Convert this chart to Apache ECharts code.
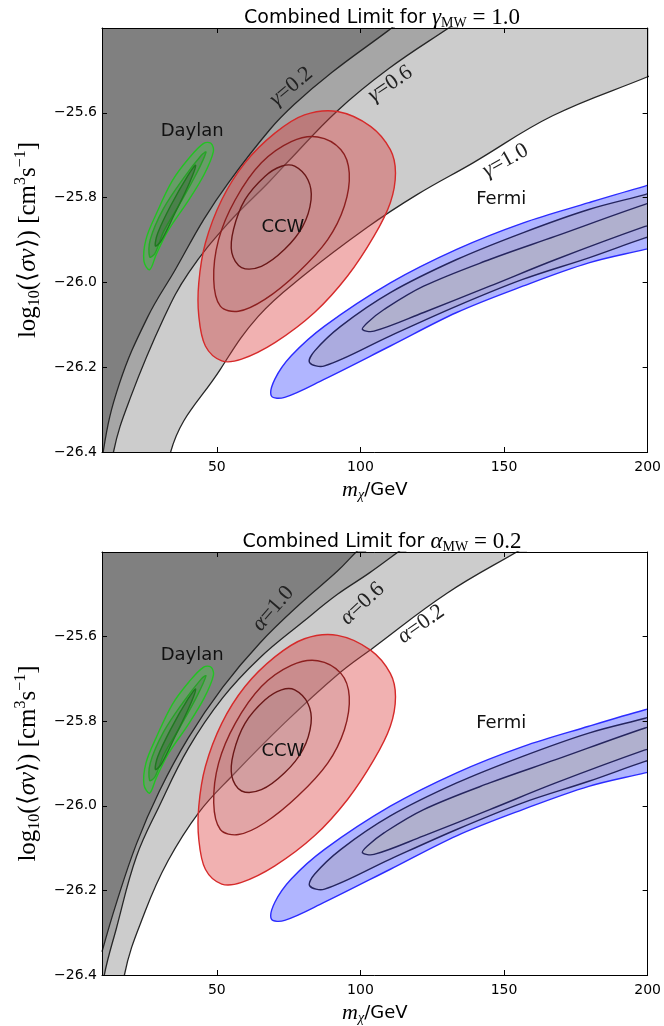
<!DOCTYPE html>
<html>
<head>
<meta charset="utf-8">
<script src="https://cdn.jsdelivr.net/npm/echarts@6/dist/echarts.min.js"></script>
<style>
  html, body { margin: 0; padding: 0; background: #fff; }
  #chart { width: 664px; height: 1026px; }
</style>
</head>
<body>
<div id="chart"></div>
<script>
// axis ticks
var massTicks = [50, 100, 150, 200]
var logTicks = [-26.4, -26.2, -26.0, -25.8, -25.6]

// limit curves, [m_chi, log10 <sigma v>] -- top panel (gamma_MW = 1.0)
var gamma02 = [[10, -26.45], [10.5, -26.396], [16, -26.24], [25.8, -26.083], [35.6, -25.969], [45.4, -25.852], [54, -25.765], [68.4, -25.64], [77, -25.58], [90, -25.505], [109.9, -25.405], [112, -25.393]]
var gamma06 = [[10, -26.6], [14, -26.4], [20, -26.27], [31.6, -26.083], [40.2, -25.977], [54, -25.86], [67.9, -25.765], [74.8, -25.715], [92, -25.595], [110, -25.495], [131.8, -25.395], [134, -25.385]]
var gamma10 = [[10, -27.2], [33.9, -26.4], [51.2, -26.205], [64.4, -26.08], [80, -25.985], [102.4, -25.87], [119.7, -25.793], [139.2, -25.718], [166.9, -25.607], [200, -25.515], [205, -25.5]]

// bottom panel (alpha_MW = 0.2)
var alpha10 = [[10, -26.345], [15, -26.23], [22, -26.09], [30, -25.965], [40, -25.84], [52, -25.72], [65, -25.615], [79.4, -25.52], [92, -25.445], [99.1, -25.396], [102, -25.38]]
var alpha06 = [[10, -26.46], [10.8, -26.4], [15, -26.29], [22, -26.12], [30, -26.0], [40, -25.865], [52, -25.745], [65, -25.65], [80, -25.565], [92, -25.50], [103, -25.45], [113.9, -25.396], [116, -25.386]]
var alpha02 = [[10, -26.75], [17.8, -26.4], [25, -26.25], [33, -26.13], [43.7, -26.016], [55.2, -25.93], [73.6, -25.804], [92, -25.69], [104.7, -25.625], [130, -25.498], [155.4, -25.396], [158, -25.386]]

// signal regions (same in both panels)
var daylanOuter = [[47.9, -25.672], [48.8, -25.691], [45.6, -25.745], [40.0, -25.808], [33.0, -25.878], [28.9, -25.934], [26.6, -25.97], [24.6, -25.95], [25.3, -25.899], [28.8, -25.84], [34.5, -25.76], [40.4, -25.706], [45.4, -25.672]]
var daylanMid = [[46.2, -25.693], [43.0, -25.742], [37.4, -25.811], [31.6, -25.878], [28.4, -25.932], [26.6, -25.94], [26.8, -25.899], [31.4, -25.826], [38.4, -25.754], [44.6, -25.7]]
var daylanCore = [[42.6, -25.724], [40.4, -25.766], [35.3, -25.838], [30.6, -25.902], [28.6, -25.914], [29.4, -25.884], [34.0, -25.818], [39.9, -25.748]]

var ccwOuter = [[92.0, -25.597], [103.5, -25.632], [110.4, -25.687], [112.2, -25.742], [110.4, -25.812], [104.7, -25.891], [95.5, -25.985], [84.0, -26.071], [70.2, -26.142], [58.6, -26.181], [51.7, -26.185], [46.0, -26.15], [43.7, -26.079], [43.7, -26.001], [46.0, -25.907], [51.7, -25.805], [59.8, -25.718], [70.2, -25.648], [80.5, -25.605]]
var ccwMid = [[85.1, -25.657], [93.2, -25.687], [96.1, -25.742], [94.4, -25.820], [88.6, -25.899], [78.2, -25.977], [66.7, -26.04], [57.5, -26.068], [51.2, -26.056], [48.9, -25.993], [50.6, -25.899], [56.4, -25.805], [65.5, -25.718], [75.9, -25.668]]
var ccwCore = [[77.1, -25.726], [81.7, -25.758], [82.8, -25.805], [79.9, -25.868], [73.6, -25.922], [65.5, -25.962], [58.6, -25.965], [55.2, -25.930], [55.8, -25.875], [59.8, -25.805], [66.7, -25.75], [72.5, -25.726]]

var fermiOuter = [[69.0, -26.268], [73.6, -26.271], [87.5, -26.228], [110.4, -26.15], [133.5, -26.071], [156.5, -26.009], [179.5, -25.954], [199.1, -25.922], [206, -25.91], [206, -25.762], [199.1, -25.773], [179.5, -25.812], [156.5, -25.86], [133.5, -25.922], [110.4, -26.001], [87.5, -26.103], [75.9, -26.173], [70.2, -26.228]]
var fermiMid = [[82.3, -26.189], [87.5, -26.197], [110.4, -26.126], [133.5, -26.056], [156.5, -25.993], [179.5, -25.942], [199.1, -25.895], [206, -25.882], [206, -25.78], [199.1, -25.793], [179.5, -25.828], [156.5, -25.883], [133.5, -25.946], [110.4, -26.024], [93.2, -26.103], [84.0, -26.162]]
var fermiCore = [[100.7, -26.111], [104.7, -26.115], [122.0, -26.071], [145.0, -26.009], [168.0, -25.946], [199.1, -25.868], [206, -25.855], [206, -25.805], [199.1, -25.816], [168.0, -25.891], [145.0, -25.946], [122.0, -26.009], [108.2, -26.064], [102.4, -26.095]]

// text annotations
var regionNames = ['Daylan', 'CCW', 'Fermi']
var regionLabelAt = [[41.4, -25.644], [73.0, -25.871], [149.0, -25.805]]
var gammaNames = ['0.2', '0.6', '1.0']
var gammaLabelAt = [[75.9, -25.538], [110.4, -25.532], [150.5, -25.713]]
var alphaNames = ['1.0', '0.6', '0.2']
var alphaLabelAt = [[69.6, -25.534], [100.7, -25.522], [121.1, -25.571]]

var SANS = 'DejaVu Sans'
var SERIF = 'Liberation Serif'
var gammaAngles = [40, 34, 29]
var alphaAngles = [49, 43, 35]

var chart = echarts.init(document.getElementById('chart'))

function fmtLog(v) {
  return (v < 0 ? '\u2212' : '') + Math.abs(v).toFixed(1)
}

var mathRich = {
  a: { fontFamily: SANS, fontWeight: 'normal', fontSize: 19, color: '#000' },
  m: { fontFamily: SERIF, fontWeight: 'normal', fontStyle: 'italic', fontSize: 23, color: '#000' },
  s: { fontFamily: SERIF, fontWeight: 'normal', fontSize: 14, color: '#000', verticalAlign: 'bottom', padding: [10, 0, 0, 0] },
  e: { fontFamily: SERIF, fontWeight: 'normal', fontSize: 23, color: '#000' }
}

function axesFor(gi) {
  var xs = [{
    gridIndex: gi, type: 'value', min: 10, max: 200, position: 'bottom', z: 10,
    axisLine: { show: true, onZero: false, lineStyle: { color: '#000', width: 1 } },
    axisTick: { show: true, inside: true, length: 5, customValues: massTicks, lineStyle: { color: '#000' } },
    axisLabel: { show: true, customValues: massTicks, fontFamily: SANS, fontSize: 14, color: '#000', margin: 8 },
    splitLine: { show: false },
    name: '{i|m}{s|\u03c7}{n|/GeV}', nameLocation: 'middle', nameGap: 27,
    nameTextStyle: { rich: {
      i: { fontFamily: SERIF, fontStyle: 'italic', fontSize: 22, color: '#000' },
      s: { fontFamily: SERIF, fontStyle: 'italic', fontSize: 14, color: '#000', verticalAlign: 'bottom', padding: [9, 0, 0, 0] },
      n: { fontFamily: SANS, fontSize: 18, color: '#000' }
    } }
  }, {
    gridIndex: gi, type: 'value', min: 10, max: 200, position: 'top', z: 10,
    axisLine: { show: true, onZero: false, lineStyle: { color: '#000', width: 1 } },
    axisTick: { show: true, inside: true, length: 5, customValues: massTicks, lineStyle: { color: '#000' } },
    axisLabel: { show: false },
    splitLine: { show: false }
  }]
  var ys = [{
    gridIndex: gi, type: 'value', min: -26.4, max: -25.4, position: 'left', z: 10,
    axisLine: { show: true, onZero: false, lineStyle: { color: '#000', width: 1 } },
    axisTick: { show: true, inside: true, length: 5, customValues: logTicks, lineStyle: { color: '#000' } },
    axisLabel: { show: true, customValues: logTicks, formatter: fmtLog, fontFamily: SANS, fontSize: 14, color: '#000', margin: 5 },
    splitLine: { show: false },
    name: '{n|log}{s|10}{n|(\u27e8}{i|\u03c3v}{n|\u27e9) [cm}{p|3}{n|s}{p|\u22121}{n|]}',
    nameLocation: 'middle', nameGap: 46, nameRotate: 90,
    nameTextStyle: { rich: {
      n: { fontFamily: SERIF, fontSize: 25, color: '#000', lineHeight: 30 },
      i: { fontFamily: SERIF, fontStyle: 'italic', fontSize: 25, color: '#000', lineHeight: 30 },
      s: { fontFamily: SERIF, fontSize: 16, color: '#000', verticalAlign: 'bottom', lineHeight: 16 },
      p: { fontFamily: SERIF, fontSize: 16, color: '#000', verticalAlign: 'top', lineHeight: 16 }
    } }
  }, {
    gridIndex: gi, type: 'value', min: -26.4, max: -25.4, position: 'right', z: 10,
    axisLine: { show: true, onZero: false, lineStyle: { color: '#000', width: 1 } },
    axisTick: { show: true, inside: true, length: 5, customValues: logTicks, lineStyle: { color: '#000' } },
    axisLabel: { show: false },
    splitLine: { show: false }
  }]
  return { xs: xs, ys: ys }
}

function band(curve, color, gi) {
  return {
    type: 'line', xAxisIndex: gi * 2, yAxisIndex: gi * 2,
    data: curve, smooth: 0.4, symbol: 'none', clip: true, silent: true,
    lineStyle: { color: '#262626', width: 1.3 },
    areaStyle: { color: color, opacity: 1, origin: 'end' },
    z: 1
  }
}

function region(pts, fill, stroke, gi) {
  return {
    type: 'custom', coordinateSystem: 'cartesian2d', xAxisIndex: gi * 2, yAxisIndex: gi * 2,
    clip: true, silent: true, z: 3,
    data: [pts[0]],
    renderItem: function (params, api) {
      return {
        type: 'polygon',
        shape: { points: pts.map(function (p) { return api.coord(p) }), smooth: 0.35 },
        style: { fill: fill, stroke: stroke, lineWidth: 1.4 }
      }
    }
  }
}

function notes(names, at, angles, greek, gi) {
  return {
    type: 'custom', coordinateSystem: 'cartesian2d', xAxisIndex: gi * 2, yAxisIndex: gi * 2,
    silent: true, z: 5, data: at,
    renderItem: function (params, api) {
      var p = api.coord([api.value(0), api.value(1)])
      var i = params.dataIndex
      var txt = greek ? '{g|' + greek + '}{n|=' + names[i] + '}' : names[i]
      return {
        type: 'text', x: p[0], y: p[1], rotation: (angles ? angles[i] : 0) * Math.PI / 180,
        style: {
          text: txt, align: 'center', verticalAlign: 'middle',
          font: '18px "' + SANS + '"', fill: '#111',
          rich: {
            g: { fontFamily: SERIF, fontStyle: 'italic', fontSize: 22, fill: '#222' },
            n: { fontFamily: SERIF, fontSize: 22, fill: '#222' }
          }
        }
      }
    }
  }
}

function panel(curves, colors, gi, labNames, labAt, labAngles, greek) {
  var s = []
  for (var k = 0; k < curves.length; k++) s.push(band(curves[k], colors[k], gi))
  s.push(region(daylanOuter, 'rgba(60,210,60,0.35)', '#22c322', gi))
  s.push(region(daylanMid, 'rgba(40,110,40,0.22)', '#27a527', gi))
  s.push(region(daylanCore, 'rgba(30,80,30,0.25)', '#1f7a1f', gi))
  s.push(region(ccwOuter, 'rgba(220,60,60,0.4)', '#d62a2a', gi))
  s.push(region(ccwMid, 'rgba(170,120,125,0.2)', '#8c1f1f', gi))
  s.push(region(ccwCore, 'rgba(160,135,140,0.22)', '#6a1717', gi))
  s.push(region(fermiOuter, 'rgba(80,90,255,0.45)', '#2b2bff', gi))
  s.push(region(fermiMid, 'rgba(160,150,150,0.3)', '#25255e', gi))
  s.push(region(fermiCore, 'rgba(190,190,170,0.3)', '#25255e', gi))
  s.push(notes(regionNames, regionLabelAt, null, null, gi))
  s.push(notes(labNames, labAt, labAngles, greek, gi))
  return s
}

var a0 = axesFor(0)
var a1 = axesFor(1)

chart.setOption({
  animation: false,
  backgroundColor: '#fff',
  title: [{
    text: '{a|Combined Limit for }{m|\u03b3}{s|MW}{e| = 1.0}',
    left: 377, top: 1, textAlign: 'center', textStyle: { fontWeight: 'normal', rich: mathRich }
  }, {
    text: '{a|Combined Limit for }{m|\u03b1}{s|MW}{e| = 0.2}',
    left: 377, top: 525, textAlign: 'center', textStyle: { fontWeight: 'normal', rich: mathRich }
  }],
  grid: [
    { left: 102, top: 28, width: 550, height: 424 },
    { left: 102, top: 552, width: 550, height: 423 }
  ],
  xAxis: a0.xs.concat(a1.xs),
  yAxis: a0.ys.concat(a1.ys),
  series: panel([gamma10, gamma06, gamma02], ['#cccccc', '#a6a6a6', '#808080'], 0, gammaNames, gammaLabelAt, gammaAngles, '\u03b3')
    .concat(panel([alpha02, alpha06, alpha10], ['#cccccc', '#a6a6a6', '#808080'], 1, alphaNames, alphaLabelAt, alphaAngles, '\u03b1'))
})
</script>
</body>
</html>
